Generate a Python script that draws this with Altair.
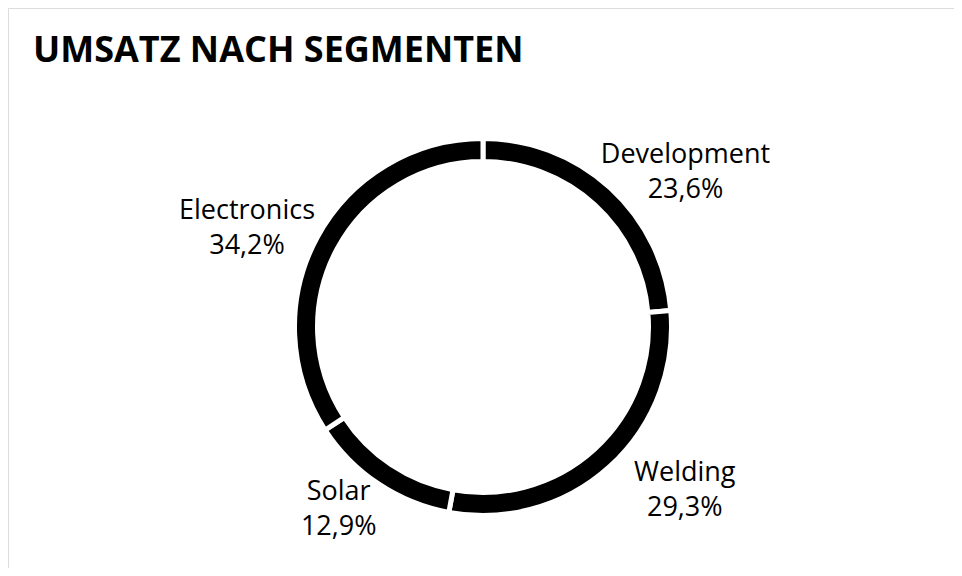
import math
import altair as alt
import pandas as pd

title_text = "UMSATZ NACH SEGMENTEN"
segments = ["Development", "Welding", "Solar", "Electronics"]
shares = [23.6, 29.3, 12.9, 34.2]

df = pd.DataFrame({
    "segment": segments,
    "share": shares,
    "order": list(range(len(segments))),
})
df["label"] = [[s, f"{v:.1f}".replace(".", ",") + "%"] for s, v in zip(segments, shares)]

# label layout: labels sit on an ellipse around the ring (wider than tall,
# since text boxes are wide) at the middle angle of their slice
A_LAB, B_LAB = 282, 215
total = df["share"].sum()
mid = (df["share"].cumsum() - df["share"] / 2) / total * 2 * math.pi
ex = A_LAB * mid.map(math.sin)
ey = B_LAB * mid.map(math.cos)
df["lab_theta"] = [math.atan2(a, b) % (2 * math.pi) for a, b in zip(ex, ey)]
df["lab_r"] = [math.hypot(a, b) for a, b in zip(ex, ey)]

W, H = 946, 560
CX, CY = 475, 319
LINE_H = 35

ring = alt.Chart(df).mark_arc(
    innerRadius=165.5, outerRadius=188.5, color="black",
    stroke="white", strokeWidth=5,
).encode(
    theta=alt.Theta("share:Q", stack=True),
    order=alt.Order("order:Q"),
    x=alt.value(CX), y=alt.value(CY),
)

labels = alt.Chart(df).mark_text(
    font="Open Sans", fontSize=27, color="black",
    align="center", baseline="middle", lineHeight=LINE_H,
    dx=12, dy=-LINE_H / 2 + 4,
).encode(
    text="label",
    theta=alt.Theta("lab_theta:Q", scale=None, stack=False),
    radius=alt.Radius("lab_r:Q", scale=None),
    x=alt.value(CX), y=alt.value(CY),
)

title = alt.Chart(pd.DataFrame({"t": [title_text]})).mark_text(
    font="Open Sans", fontSize=36, fontWeight="bold", color="black",
    align="left", baseline="alphabetic",
).encode(text="t:N", x=alt.value(25), y=alt.value(54))

chart = alt.layer(ring, labels, title).properties(
    width=W, height=H, padding=0, autosize=alt.AutoSizeParams(type="none"),
).configure_view(stroke="#d9d9d9", strokeWidth=2).configure(background="white")

chart.save("out.html", embed_options={"renderer": "svg", "actions": False})
